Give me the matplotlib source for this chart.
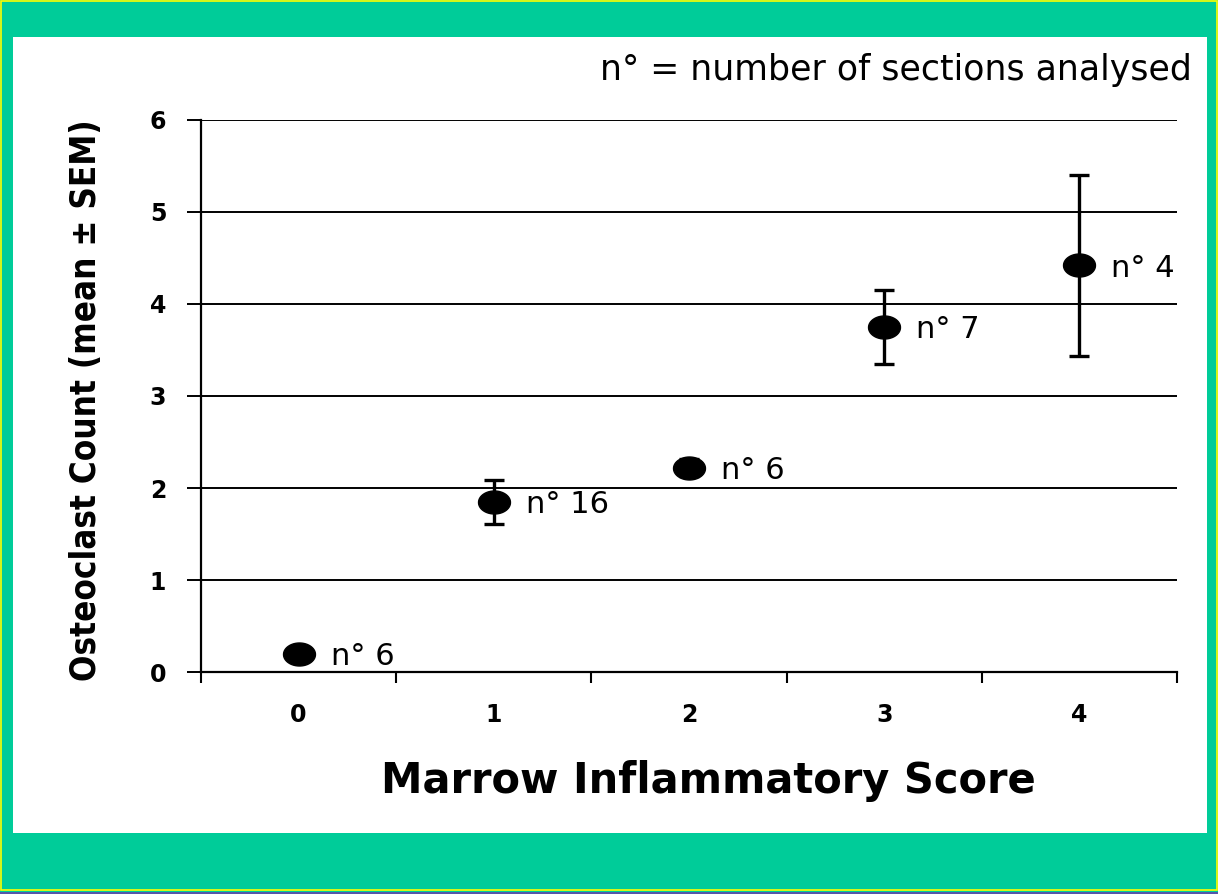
import numpy as np
import matplotlib.pyplot as plt
from matplotlib.patches import Rectangle
from matplotlib.path import Path

# Datos
scores = [0, 1, 2, 3, 4]
means = [0.20, 1.85, 2.22, 3.75, 4.42]
sems = [0.06, 0.24, 0.09, 0.40, 0.98]
n_labels = ['n° 6', 'n° 16', 'n° 6', 'n° 7', 'n° 4']
y_ticks = [0, 1, 2, 3, 4, 5, 6]

green = '#00CC99'

fig = plt.figure(figsize=(12.18, 8.94), dpi=100, facecolor=green)

# Panel blanco y bordes
fig.patches.append(Rectangle((0.0107, 0.0682), 0.9803, 0.8904, transform=fig.transFigure,
                             facecolor='white', edgecolor='none', zorder=-3))
fig.patches.append(Rectangle((0.0005, 0.004), 0.999, 0.995, transform=fig.transFigure,
                             facecolor='none', edgecolor='#FFFF00', linewidth=1.2, zorder=-2))
fig.patches.append(Rectangle((0, 0), 1, 0.0025, transform=fig.transFigure,
                             facecolor='#5555AA', edgecolor='none', zorder=-1))

ax = fig.add_axes([0.165, 0.2483, 0.8013, 0.6175])
ax.set_facecolor('none')
ax.set_zorder(5)

# Marcador eliptico
t = np.linspace(0, 2 * np.pi, 60)
ellipse = Path(np.column_stack([0.5 * np.cos(t), 0.36 * np.sin(t)]))

ax.errorbar(scores, means, yerr=sems, fmt='none', ecolor='black', elinewidth=2.4,
            capsize=7, capthick=2.4, zorder=3)
ax.plot(scores, means, linestyle='none', marker=ellipse, markersize=23,
        color='black', zorder=4)

for x, y, lab in zip(scores, means, n_labels):
    ax.annotate(lab, (x, y), xytext=(23, -2), textcoords='offset points',
                ha='left', va='center', fontsize=22, family='DejaVu Sans')

ax.set_xlim(-0.5, 4.5)
ax.set_ylim(0, 6)
ax.set_yticks(y_ticks)
ax.yaxis.grid(True, color='black', linewidth=1.4)
ax.set_axisbelow(True)

for s in ['top', 'right']:
    ax.spines[s].set_visible(False)
ax.spines['left'].set_linewidth(1.6)
ax.spines['bottom'].set_linewidth(1.6)

ax.set_xticks(np.arange(-0.5, 5, 1))
ax.set_xticklabels([])
ax.set_xticks(scores, minor=True)
ax.set_xticklabels([str(s) for s in scores], minor=True)
ax.tick_params(axis='x', which='major', direction='out', length=8, width=1.5)
ax.tick_params(axis='x', which='minor', length=0, pad=22, labelsize=17)
ax.tick_params(axis='y', direction='out', length=10, width=1.4, pad=15, labelsize=17)
for lbl in ax.get_yticklabels() + ax.get_xticklabels(minor=True):
    lbl.set_fontweight('bold')

ax.set_xlabel('Marrow Inflammatory Score', fontsize=30, fontweight='bold', family='DejaVu Sans')
ax.xaxis.set_label_coords(0.52, -0.16)
ax.set_ylabel('Osteoclast Count (mean ± SEM)', fontsize=25, fontweight='bold',
              family='DejaVu Sans', fontstretch='condensed')
ax.yaxis.set_label_coords(-0.1, 0.493)

fig.text(0.9787, 0.9217, 'n° = number of sections analysed', ha='right', va='center',
         fontsize=25, family='DejaVu Sans')

plt.savefig('out.png', dpi=100, facecolor=green)
